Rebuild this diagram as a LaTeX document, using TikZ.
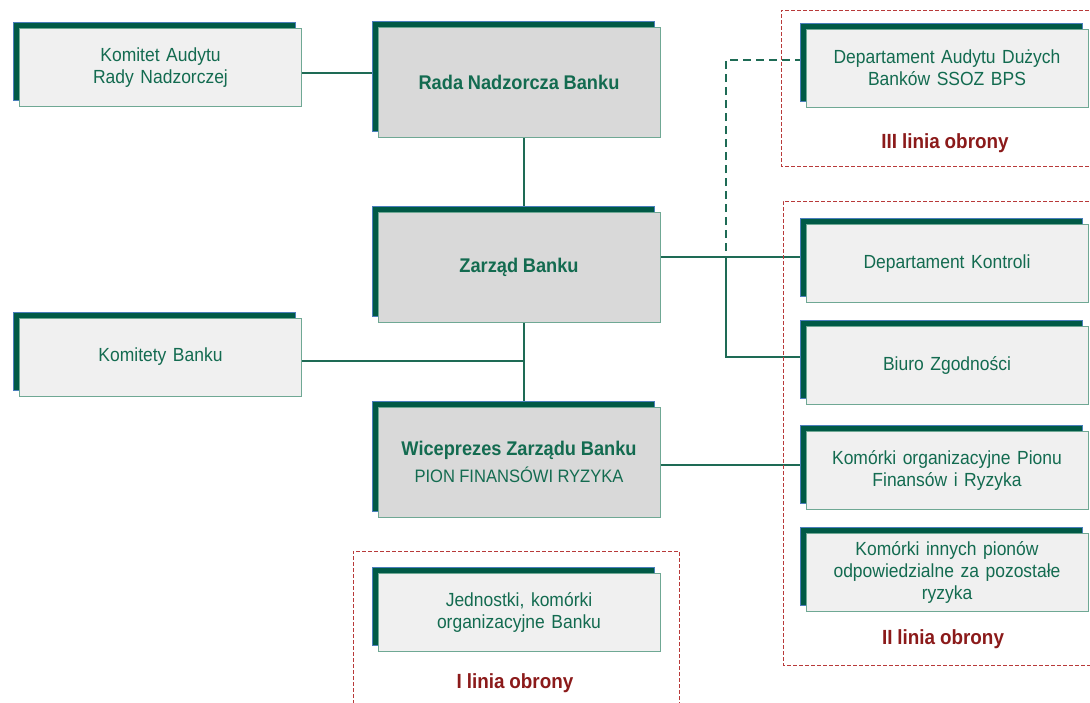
\documentclass[tikz,border=0pt]{standalone}
\usepackage{fontspec}
\setmainfont{Liberation Sans}[FakeStretch=0.92, WordSpace=1.35]
\usetikzlibrary{shadows}
\pgfdeclarelayer{background}
\pgfsetlayers{background,main}
\newcommand\tightsp{\spaceskip 0.24em\relax}
\definecolor{dkgreen}{HTML}{005A46}
\definecolor{shadowedge}{HTML}{4A7EBB}
\definecolor{boxedge}{HTML}{6FA894}
\definecolor{lightfill}{HTML}{F0F0F0}
\definecolor{grayfill}{HTML}{D9D9D9}
\definecolor{txtgreen}{HTML}{136B50}
\definecolor{linegreen}{HTML}{1E6B55}
\definecolor{redtxt}{HTML}{8B1A1A}
\definecolor{reddash}{HTML}{B83A3A}
\begin{document}
\begin{tikzpicture}[x=1pt,y=-1pt,
  box/.style={draw=boxedge, line width=0.8pt, fill=lightfill,
    minimum width=282pt, minimum height=78pt, inner sep=2pt, align=center,
    text=txtgreen, font=\fontsize{19}{22}\selectfont,
    copy shadow={shadow xshift=-6pt, shadow yshift=6pt, fill=dkgreen, draw=shadowedge, line width=0.8pt}},
  bigbox/.style={box, fill=grayfill, minimum height=110pt,
    font=\bfseries\fontsize{19.8}{24}\selectfont\tightsp},
  conn/.style={draw=linegreen, line width=1.3pt},
  dconn/.style={draw=linegreen, line width=1.8pt, dash pattern=on 8pt off 5pt},
  zone/.style={draw=reddash, line width=1pt, dash pattern=on 4pt off 2pt},
  zonelabel/.style={text=redtxt, font=\bfseries\fontsize{20.5}{24}\selectfont\tightsp}
]
\useasboundingbox (0,0) rectangle (1090,702);

% zones
\draw[zone] (1095,10) -- (781,10) -- (781,166) -- (1095,166);
\draw[zone] (1095,201) -- (783,201) -- (783,665) -- (1095,665);
\draw[zone] (353,710) -- (353,551) -- (679,551) -- (679,710);
\node[zonelabel] (l3) at (945,143) {III linia obrony};
\node[zonelabel] (l2) at (943,639) {II linia obrony};
\node[zonelabel] (l1) at (515,683) {I linia obrony};

% boxes
\node[box] (komA) at (160.5,67.5) {Komitet Audytu\\Rady Nadzorczej};
\node[bigbox] (rada) at (519,82) {Rada Nadzorcza Banku};
\node[bigbox] (zarz) at (519,267.5) {Zarząd Banku};
\node[box] (komB) at (160.5,357) {Komitety Banku};
\node[bigbox] (wice) at (519,462) {Wiceprezes Zarządu Banku\\[3pt]{\mdseries\fontsize{18}{21}\selectfont\tightsp PION FINANSÓWI RYZYKA}};
\node[box] (jedn) at (519,612.5) {Jednostki, komórki\\organizacyjne Banku};
\node[box] (dAud) at (947,68) {Departament Audytu Dużych\\Banków SSOZ BPS};
\node[box] (dKon) at (947,263.5) {Departament Kontroli};
\node[box] (biuro) at (947,365.5) {Biuro Zgodności};
\node[box] (kFin) at (947,470) {Komórki organizacyjne Pionu\\Finansów i Ryzyka};
\node[box] (kInn) at (947,572) {Komórki innych pionów\\odpowiedzialne za pozostałe\\ryzyka};

% helper coordinates
\coordinate (tx) at (524,0);
\coordinate (bx) at (726,0);
\coordinate (yA) at (0,73);
\coordinate (yZ) at (0,257);
\coordinate (yB) at (0,357);
\coordinate (yK) at (0,361);
\coordinate (yW) at (0,465);
\coordinate (yD) at (0,60);
\coordinate (jK) at (524,361);
\coordinate (jZ) at (726,257);
\coordinate (dTop) at (726,60);
\coordinate (dBot) at (726,251);

\begin{pgfonlayer}{background}
\draw[conn] (komA.east |- yA) -- (rada.west |- yA);
\draw[conn] (rada.south -| tx) -- (zarz.north -| tx);
\draw[conn] (zarz.south -| tx) -- (wice.north -| tx);
\draw[conn] (komB.east |- yK) -- (jK);
\draw[conn] (zarz.east |- yZ) -- (dKon.west |- yZ);
\draw[conn] (jZ) -- (bx |- yB) -- (biuro.west |- yB);
\draw[conn] (wice.east |- yW) -- (kFin.west |- yW);
\draw[dconn] (dBot) -- (dTop) -- (dAud.west |- yD);
\end{pgfonlayer}
\end{tikzpicture}
\end{document}
